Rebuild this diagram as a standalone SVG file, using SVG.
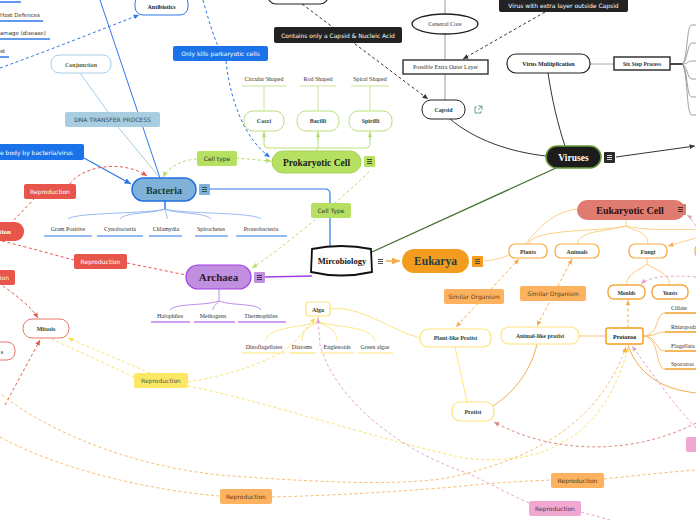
<svg xmlns="http://www.w3.org/2000/svg" width="696" height="520" viewBox="0 0 696 520">
<style>
.ser{font-family:"Liberation Serif","Times New Roman",serif}
.san{font-family:"DejaVu Sans","Liberation Sans",sans-serif}
.b{font-weight:bold}
.nt{font-family:"Liberation Serif",serif;font-weight:bold;font-size:6px;fill:#1f4a44;text-anchor:middle}
.lt{font-family:"Liberation Serif",serif;font-size:6px;fill:#333;text-anchor:middle}
.lab{font-family:"DejaVu Sans",sans-serif;font-size:6px;text-anchor:middle}
.wbox{fill:#fff}
.dash{stroke-dasharray:3 2.5;fill:none;stroke-width:1}
.ln{fill:none}
.ic{stroke-width:0.8}
</style>
<defs>
<marker id="aBl" viewBox="0 0 10 10" refX="9" refY="5" markerWidth="6" markerHeight="6" orient="auto"><path d="M0,1 L9,5 L0,9z" fill="#2f77e8"/></marker>
<marker id="aK" viewBox="0 0 10 10" refX="9" refY="5" markerWidth="6" markerHeight="6" orient="auto"><path d="M0,1 L9,5 L0,9z" fill="#333"/></marker>
<marker id="aR" viewBox="0 0 10 10" refX="9" refY="5" markerWidth="6" markerHeight="6" orient="auto"><path d="M0,1 L9,5 L0,9z" fill="#e8584c"/></marker>
<marker id="aY" viewBox="0 0 10 10" refX="9" refY="5" markerWidth="6" markerHeight="6" orient="auto"><path d="M0,1 L9,5 L0,9z" fill="#f8df55"/></marker>
<marker id="aO" viewBox="0 0 10 10" refX="9" refY="5" markerWidth="6" markerHeight="6" orient="auto"><path d="M0,1 L9,5 L0,9z" fill="#f7ab4c"/></marker>
<marker id="aOs" viewBox="0 0 10 10" refX="1" refY="5" markerWidth="6" markerHeight="6" orient="auto"><path d="M10,1 L1,5 L10,9z" fill="#f7ab4c"/></marker>
<marker id="aP" viewBox="0 0 10 10" refX="9" refY="5" markerWidth="6" markerHeight="6" orient="auto"><path d="M0,1 L9,5 L0,9z" fill="#e9a3cb"/></marker>
<marker id="aG" viewBox="0 0 10 10" refX="9" refY="5" markerWidth="6" markerHeight="6" orient="auto"><path d="M0,1 L9,5 L0,9z" fill="#b5de6c"/></marker>
<marker id="aBr" viewBox="0 0 10 10" refX="9" refY="5" markerWidth="6" markerHeight="6" orient="auto"><path d="M0,1 L9,5 L0,9z" fill="#dc8b82"/></marker>
<marker id="aLG" viewBox="0 0 10 10" refX="9" refY="5" markerWidth="6" markerHeight="6" orient="auto"><path d="M0,1 L9,5 L0,9z" fill="#b9e07a"/></marker>
<g id="menu"><line x1="3" y1="3.5" x2="8" y2="3.5"/><line x1="3" y1="5.5" x2="8" y2="5.5"/><line x1="3" y1="7.5" x2="8" y2="7.5"/></g>
</defs>
<rect width="696" height="520" fill="#fff"/>

<g id="connectors">
<path class="ln" d="M100,0 L160,178" stroke="#2f77e8" stroke-width="1"/>
<path class="ln" d="M84,158 L131,184" stroke="#2f77e8" stroke-width="1.2" marker-end="url(#aBl)"/>
<path class="dash" d="M0,68 C50,50 100,30 139,15" stroke="#2f77e8" marker-end="url(#aBl)"/>
<path class="dash" d="M203,0 C208,18 213,35 218,46" stroke="#2f77e8"/>
<path class="dash" d="M226,61 C230,100 245,140 270,157" stroke="#2f77e8" marker-end="url(#aBl)"/>
<path class="ln" d="M210,189 L325,189 Q330,189 330,194 L330,246" stroke="#2f77e8" stroke-width="1.2"/>
<path class="ln" d="M80,73 L108,112 M118,127 L160,178" stroke="#a8cde6" stroke-width="1"/>
<path class="dash" d="M197,159 C180,160 168,168 163,177" stroke="#b5de6c" marker-end="url(#aG)"/>
<path class="dash" d="M236,158 L271,161" stroke="#b5de6c" marker-end="url(#aG)"/>
<path class="dash" d="M369,172 C340,200 280,250 252,268" stroke="#b5de6c" marker-end="url(#aG)"/>
<path class="ln" d="M317,151 L317,148 M268,148 L366,148 M264,131 L264,144 Q264,148 268,148 M370,131 L370,144 Q370,148 366,148 M318,131 L318,148" stroke="#b9e07a" stroke-width="1"/>
<path class="ln" d="M264,140 L264,132" stroke="#b9e07a" marker-end="url(#aLG)"/>
<path class="ln" d="M318,140 L318,132" stroke="#b9e07a" marker-end="url(#aLG)"/>
<path class="ln" d="M370,140 L370,132" stroke="#b9e07a" marker-end="url(#aLG)"/>
<path class="ln" d="M264,86 L264,111 M318,86 L318,111 M370,86 L370,111" stroke="#c8e69a" stroke-width="1"/>
<path class="ln" d="M165,209 C150,214 75,212 68,219 M165,209 C150,214 125,212 120,219 M165,209 C166,213 167,215 167,219 M165,209 C175,214 205,212 211,219 M165,209 C180,214 255,212 261,219" stroke="#8cb2f0" stroke-width="0.9"/>
<path class="ln" d="M165,201 L165,209" stroke="#2f77e8" stroke-width="1.5"/>
<path class="ln" d="M219,289 L219,301 M219,301 C205,306 175,303 170,310 M219,301 C216,305 213,306 213,310 M219,301 C232,306 257,303 261,310" stroke="#b77de6" stroke-width="0.9"/>
<path class="ln" d="M265,277 L312,276" stroke="#a33ee6" stroke-width="1.5"/>
<path class="ln" d="M445,0 L445,14 M445,34 L445,60 M445,74 L445,100" stroke="#999" stroke-width="1"/>
<path class="dash" d="M302,4 L428,99" stroke="#333" marker-end="url(#aK)"/>
<path class="dash" d="M545,12 L463,59" stroke="#333" marker-end="url(#aK)"/>
<path class="ln" d="M450,119 C475,140 510,152 546,156" stroke="#333" stroke-width="1"/>
<path class="ln" d="M548,73 C552,100 558,125 565,146" stroke="#333" stroke-width="1"/>
<path class="ln" d="M590,64 L614,64" stroke="#aaa" stroke-width="1"/>
<path class="ln" d="M670,64 L682,64" stroke="#333" stroke-width="1.8"/>
<path class="ln" d="M682,64 C688,60 686,25 692,25 L696,25 M682,64 C688,62 687,43 692,43 L696,43 M682,64 C688,64 688,61 692,61 L696,61 M682,64 C688,66 687,79 692,79 L696,79 M682,64 C688,68 686,97 692,97 L696,97 M682,64 C688,70 686,115 692,115 L696,115" stroke="#888" stroke-width="0.8"/>
<path class="ln" d="M616,157 L695,146" stroke="#333" stroke-width="1" marker-end="url(#aK)"/>
<path class="ln" d="M556,168 L372,252" stroke="#3d6b2a" stroke-width="1.2"/>
<path class="ln" d="M386,261 L400,261" stroke="#f7ab4c" stroke-width="1.5" marker-end="url(#aO)"/>
<path class="ln" d="M484,261 C505,259 515,253 525,245 C540,225 555,212 577,209" stroke="#fcd08a" stroke-width="1"/>
<path class="ln" d="M626,220 L626,226 M626,226 C600,232 535,228 528,244 M626,226 C605,232 580,230 577,244 M626,226 C635,232 647,230 648,244 M626,226 C650,232 690,228 696,230" stroke="#fcd08a" stroke-width="1"/>
<path class="ln" d="M696,238 L668,246" stroke="#fcd08a" stroke-width="1" marker-end="url(#aO)"/>
<path class="ln" d="M647,258 L647,264 M647,264 C640,270 628,272 626,285 M647,264 C655,270 668,272 670,285" stroke="#fcc978" stroke-width="1"/>
<path class="dash" d="M628,328 L628,300" stroke="#f7ab4c" marker-end="url(#aO)"/>
<path class="ln" d="M643,336 C660,336 655,313 665,313 L696,313 M643,336 C658,336 655,332 665,332 L696,332 M643,336 C658,336 655,351 665,351 L696,351 M643,336 C660,336 655,369 665,369 L696,369" stroke="#f9c070" stroke-width="1"/>
<path class="ln" d="M628,345 C640,380 670,390 696,393" stroke="#f7ab4c" stroke-width="1"/>
<path class="ln" d="M579,336 L606,336" stroke="#fcd8a8" stroke-width="1.5"/>
<path class="ln" d="M455,347 L467,402" stroke="#fde47a" stroke-width="1"/>
<path class="ln" d="M537,344 C530,375 510,395 493,406" stroke="#f7ab4c" stroke-width="1"/>
<path class="ln" d="M420,338 C390,330 360,305 330,309" stroke="#fde47a" stroke-width="1"/>
<path class="dash" d="M519,259 L456,327" stroke="#f7ab4c" marker-start="url(#aOs)" marker-end="url(#aO)"/>
<path class="dash" d="M572,259 L537,326" stroke="#f7ab4c" marker-start="url(#aOs)" marker-end="url(#aO)"/>
<path class="ln" d="M318,316 L318,322 M318,322 C300,328 270,326 265,341 M318,322 C308,328 302,330 302,341 M318,322 C330,328 337,330 337,341 M318,322 C340,328 372,326 375,341" stroke="#fde47a" stroke-width="0.9"/>
<path class="dash" d="M70,184 C80,168 120,158 147,176" stroke="#e8584c" marker-end="url(#aR)"/>
<path class="dash" d="M35,198 L12,222" stroke="#e8584c"/>
<path class="dash" d="M2,241 C30,248 55,255 74,260" stroke="#e8584c"/>
<path class="dash" d="M127,263 L186,275" stroke="#e8584c"/>
<path class="dash" d="M3,286 C15,295 30,305 38,318" stroke="#e8584c" marker-end="url(#aR)"/>
<path class="dash" d="M5,405 L40,340" stroke="#e8584c" marker-end="url(#aR)"/>
<path class="dash" d="M150,373 L68,338" stroke="#fbe46a" marker-end="url(#aY)"/>
<path class="dash" d="M134,377 L52,339" stroke="#fbe46a"/>
<path class="dash" d="M188,382 C230,375 270,362 292,345 L315,318" stroke="#fbe46a" marker-end="url(#aY)"/>
<path class="dash" d="M188,386 C260,400 380,440 464,458 C560,470 610,420 628,347" stroke="#fbe46a" marker-end="url(#aY)"/>
<path class="dash" d="M2,395 C60,440 150,470 232,476 C330,483 420,487 464,474 C540,455 600,420 626,347" stroke="#f9bd72" marker-end="url(#aO)"/>
<path class="dash" d="M0,437 C60,470 150,490 219,496" stroke="#f9bd72"/>
<path class="dash" d="M272,497 C350,495 420,490 464,486 C500,482 530,481 551,480" stroke="#f9bd72"/>
<path class="dash" d="M604,479 C640,475 670,472 696,470" stroke="#f9bd72"/>
<path class="dash" d="M529,503 C500,490 480,478 464,472 C400,450 335,400 320,345 L318,318" stroke="#eba6cf" marker-end="url(#aP)"/>
<path class="dash" d="M581,512 L610,520" stroke="#eba6cf"/>
<path class="dash" d="M696,428 C670,400 650,370 632,346" stroke="#eba6cf" marker-end="url(#aP)"/>
<path class="dash" d="M696,277 C670,275 650,276 641,284" stroke="#eba6cf" marker-end="url(#aP)"/>
<path class="dash" d="M696,226 C692,220 690,217 687,215" stroke="#eba6cf" marker-end="url(#aP)"/>
<path class="dash" d="M696,423 C640,452 560,458 494,422" stroke="#dc8b82" marker-end="url(#aBr)"/>
</g>

<g id="top-left-list">
<line x1="0" y1="2" x2="21" y2="2" stroke="#2f77e8" stroke-width="1.5"/>
<text x="0" y="17" class="san" font-size="5.5" fill="#333">Host Defences</text>
<line x1="0" y1="21" x2="43" y2="21" stroke="#2f77e8" stroke-width="1.5"/>
<text x="0" y="35" class="san" font-size="5.5" fill="#333">amage (disease)</text>
<line x1="0" y1="39" x2="50" y2="39" stroke="#2f77e8" stroke-width="1.5"/>
<text x="0" y="53" class="san" font-size="5.5" fill="#333">st</text>
<line x1="0" y1="57" x2="9" y2="57" stroke="#2f77e8" stroke-width="1.5"/>
</g>

<g id="antibiotics"><rect x="135" y="-5" width="53" height="20" rx="8" class="wbox" stroke="#2f77e8" stroke-width="1"/><text x="161.5" y="9" class="nt" style="fill:#222">Antibiotics</text></g>
<g id="conjunction"><rect x="51" y="55" width="60" height="18" rx="8" class="wbox" stroke="#a8cde6" stroke-width="1"/><text x="81" y="66.5" class="nt" style="fill:#5a6b2a">Conjunction</text></g>
<g id="only-kills"><rect x="173" y="46" width="95" height="15" rx="2" fill="#1a73e8"/><text x="220.5" y="56" class="lab" fill="#fff">Only kills parkaryotic cells</text></g>
<g id="dna"><rect x="65" y="112" width="95" height="15" rx="2" fill="#a9cde0"/><text x="112.5" y="122" class="lab" fill="#3a4a55">DNA TRANSFER PROCESS</text></g>
<g id="body-label"><rect x="-5" y="144" width="89" height="16" rx="2" fill="#1a73e8"/><text x="0" y="154.5" class="san" font-size="6" fill="#fff">e body by bacteria/virus</text></g>
<g id="cell-type-1"><rect x="197" y="151" width="40" height="15" rx="2" fill="#b5e061"/><text x="217" y="161" class="lab" fill="#333">Cell type</text></g>

<g id="bacteria"><rect x="132" y="178" width="64" height="23" rx="11.5" fill="#7fb1d9" stroke="#1f6fe0" stroke-width="1.5"/><text x="164" y="193.5" class="ser b" font-size="10" text-anchor="middle" fill="#133f3a">Bacteria</text>
<rect x="199" y="184" width="11" height="11" rx="1" fill="#7fb1d9"/><use href="#menu" x="199" y="184" stroke="#133f3a" class="ic"/></g>
<g id="bacteria-types">
<text x="68" y="231" class="lt">Gram Positive</text><line x1="44" y1="236" x2="92" y2="236" stroke="#2f77e8" stroke-width="1.2"/>
<text x="120" y="231" class="lt">Cynobacteria</text><line x1="97" y1="236" x2="143" y2="236" stroke="#2f77e8" stroke-width="1.2"/>
<text x="166" y="231" class="lt">Chlamydia</text><line x1="149" y1="236" x2="182" y2="236" stroke="#2f77e8" stroke-width="1.2"/>
<text x="211" y="231" class="lt">Spirochetes</text><line x1="195" y1="236" x2="228" y2="236" stroke="#2f77e8" stroke-width="1.2"/>
<text x="261" y="231" class="lt">Proteobacteria</text><line x1="236" y1="236" x2="287" y2="236" stroke="#2f77e8" stroke-width="1.2"/>
</g>

<g id="prokaryotic-cell"><rect x="272" y="151" width="89" height="22" rx="11" fill="#b5e061" stroke="#a5d455" stroke-width="1"/><text x="316.5" y="165.5" class="ser b" font-size="9.5" text-anchor="middle" fill="#1a1a1a">Prokaryotic Cell</text>
<rect x="364" y="156" width="11" height="11" rx="1" fill="#b5e061"/><use href="#menu" x="364" y="156" stroke="#222" class="ic"/></g>
<g id="cocci"><rect x="244" y="111" width="40" height="20" rx="9" class="wbox" stroke="#b9e07a" stroke-width="1"/><text x="264" y="123" class="nt">Cocci</text></g>
<g id="bacilli"><rect x="297" y="111" width="42" height="20" rx="9" class="wbox" stroke="#b9e07a" stroke-width="1"/><text x="318" y="123" class="nt">Bacilli</text></g>
<g id="spirilli"><rect x="349" y="111" width="43" height="20" rx="9" class="wbox" stroke="#b9e07a" stroke-width="1"/><text x="370.5" y="123" class="nt">Spirilli</text></g>
<g id="shapes">
<text x="264" y="81" class="lt" font-size="5">Circular Shaped</text><line x1="242" y1="86" x2="287" y2="86" stroke="#c8e69a" stroke-width="1.2"/>
<text x="318" y="81" class="lt" font-size="5">Rod Shaped</text><line x1="300" y1="86" x2="336" y2="86" stroke="#c8e69a" stroke-width="1.2"/>
<text x="370" y="81" class="lt" font-size="5">Spiral Shaped</text><line x1="351" y1="86" x2="389" y2="86" stroke="#c8e69a" stroke-width="1.2"/>
</g>
<g id="cell-type-2"><rect x="311" y="203" width="40" height="15" rx="2" fill="#b5e061"/><text x="331" y="213" class="lab" fill="#333">Cell Type</text></g>

<g id="top-node"><rect x="268" y="-15" width="60" height="19" rx="8" class="wbox" stroke="#222" stroke-width="1.2"/></g>
<g id="contains-label"><rect x="274" y="27" width="128" height="16" rx="2" fill="#222"/><text x="338" y="37.5" class="lab" fill="#fff">Contains only a Capsid &amp; Nucleic Acid</text></g>
<g id="extra-label"><rect x="499" y="-3" width="129" height="15" rx="2" fill="#222"/><text x="563.5" y="8" class="lab" fill="#fff">Virus with extra layer outside Capsid</text></g>
<g id="central-core"><ellipse cx="445" cy="24" rx="33" ry="10" class="wbox" stroke="#222" stroke-width="1.3"/><text x="445" y="26" class="lt" fill="#222">Cenetral Core</text></g>
<g id="outer-layer"><rect x="403" y="60" width="85" height="14" class="wbox" stroke="#222" stroke-width="1.3"/><text x="445.5" y="69" class="lt" fill="#222">Possible Extra Outer Layer</text></g>
<g id="capsid"><rect x="422" y="100" width="43" height="19" rx="9" class="wbox" stroke="#222" stroke-width="1"/><text x="443.5" y="112" class="nt">Capsid</text>
<g stroke="#2f7a6a" stroke-width="0.7" fill="none"><path d="M477,107 L475,107 L475,113 L481,113 L481,111"/><path d="M478,106 L482,106 L482,110 M482,106 L478,110"/></g></g>
<g id="virus-multiplication"><rect x="507" y="54" width="83" height="19" rx="9" class="wbox" stroke="#222" stroke-width="1.2"/><text x="548.5" y="66" class="nt" style="fill:#222">Virus Multiplication</text></g>
<g id="six-step"><rect x="614" y="57" width="56" height="13" class="wbox" stroke="#333" stroke-width="1.5"/><text x="642" y="66" class="nt" style="fill:#333;font-size:5.5px">Six Step Process</text></g>
<g id="viruses"><rect x="546" y="146" width="55" height="22" rx="11" fill="#1c1c1c" stroke="#6a9a3a" stroke-width="1.5"/><text x="573.5" y="160.5" class="ser b" font-size="9.5" text-anchor="middle" fill="#fff">Viruses</text>
<rect x="604" y="152" width="11" height="11" rx="1" fill="#2a2a2a"/><use href="#menu" x="604" y="152" stroke="#fff" class="ic"/></g>

<g id="mircobiology"><path d="M312,249 Q341,243 371,249 L372,272 Q341,279 311,272 Z" fill="#fff" stroke="#111" stroke-width="1.8"/><text x="342" y="264" class="ser b" font-size="8.5" text-anchor="middle" fill="#111">Mircobiology</text>
<use href="#menu" x="375" y="256" stroke="#222" class="ic"/></g>
<g id="eukarya"><rect x="402" y="249" width="67" height="24" rx="12" fill="#f39c1f"/><text x="435.5" y="265" class="ser b" font-size="11.5" text-anchor="middle" fill="#1d4040">Eukarya</text>
<rect x="472" y="256" width="11" height="11" rx="1" fill="#f39c1f"/><use href="#menu" x="472" y="256" stroke="#1d4040" class="ic"/></g>
<g id="archaea"><rect x="186" y="265" width="65" height="24" rx="12" fill="#c18fe0" stroke="#a33ee6" stroke-width="1.2"/><text x="218.5" y="281" class="ser b" font-size="11" text-anchor="middle" fill="#2a1a2a">Archaea</text>
<rect x="254" y="272" width="11" height="11" rx="1" fill="#c18fe0"/><use href="#menu" x="254" y="272" stroke="#2a1a2a" class="ic"/></g>
<g id="archaea-types">
<text x="170" y="318" class="lt">Halophiles</text><line x1="151" y1="322" x2="190" y2="322" stroke="#a33ee6" stroke-width="1.2"/>
<text x="213" y="318" class="lt">Methogens</text><line x1="194" y1="322" x2="235" y2="322" stroke="#a33ee6" stroke-width="1.2"/>
<text x="261" y="318" class="lt">Thermophiles</text><line x1="238" y1="322" x2="286" y2="322" stroke="#a33ee6" stroke-width="1.2"/>
</g>

<g id="eukaryotic-cell"><rect x="577" y="200" width="108" height="20" rx="10" fill="#e07b70"/><text x="630" y="213.5" class="ser b" font-size="10" text-anchor="middle" fill="#2a1212">Eukaryotic Cell</text>
<rect x="675" y="204" width="11" height="11" rx="1" fill="#e07b70"/><use href="#menu" x="675" y="204" stroke="#2a1212" class="ic"/></g>
<g id="plants"><rect x="509" y="244" width="38" height="14" rx="6" class="wbox" stroke="#f7a940" stroke-width="1.2"/><text x="528" y="253.5" class="nt">Plants</text></g>
<g id="animals"><rect x="555" y="244" width="44" height="14" rx="6" class="wbox" stroke="#f7a940" stroke-width="1.2"/><text x="577" y="253.5" class="nt">Animals</text></g>
<g id="fungi"><rect x="629" y="244" width="38" height="14" rx="6" class="wbox" stroke="#f7a940" stroke-width="1.2"/><text x="648" y="253.5" class="nt">Fungi</text></g>
<g id="right-node"><rect x="695" y="244" width="20" height="14" rx="6" class="wbox" stroke="#f7a940" stroke-width="1.2"/></g>
<g id="moulds"><rect x="608" y="285" width="37" height="14" rx="6" class="wbox" stroke="#f7a940" stroke-width="1.5"/><text x="626.5" y="294.5" class="nt" style="fill:#333;font-size:5.5px">Moulds</text></g>
<g id="yeasts"><rect x="652" y="285" width="36" height="14" rx="6" class="wbox" stroke="#f7a940" stroke-width="1.5"/><text x="670" y="294.5" class="nt" style="fill:#333;font-size:5.5px">Yeasts</text></g>
<g id="protozoa"><rect x="606" y="328" width="37" height="16" rx="2" class="wbox" stroke="#f39c1f" stroke-width="1.5"/><text x="624.5" y="338.5" class="nt" style="fill:#111">Protozoa</text></g>
<g id="protozoa-types">
<text x="671" y="310" class="lt" style="text-anchor:start">Ciliate</text>
<text x="671" y="329" class="lt" style="text-anchor:start">Rhizopoda</text>
<text x="671" y="348" class="lt" style="text-anchor:start">Flagellata</text>
<text x="671" y="366" class="lt" style="text-anchor:start">Sporozoa</text>
<line x1="665" y1="313" x2="696" y2="313" stroke="#f39c1f" stroke-width="1.2"/>
<line x1="665" y1="332" x2="696" y2="332" stroke="#f39c1f" stroke-width="1.2"/>
<line x1="665" y1="351" x2="696" y2="351" stroke="#f39c1f" stroke-width="1.2"/>
<line x1="665" y1="369" x2="696" y2="369" stroke="#f39c1f" stroke-width="1.2"/>
</g>
<g id="similar-1"><rect x="444" y="289" width="60" height="15" rx="2" fill="#fdb25f"/><text x="474" y="299" class="lab" fill="#5a3a1a">Similar Organism</text></g>
<g id="similar-2"><rect x="520" y="286" width="66" height="15" rx="2" fill="#fdb25f"/><text x="553" y="296" class="lab" fill="#5a3a1a">Similar Organism</text></g>
<g id="animal-like"><rect x="501" y="327" width="78" height="17" rx="8" class="wbox" stroke="#fde47a" stroke-width="1.2"/><text x="540" y="338" class="nt">Animal-like protist</text></g>
<g id="plant-like"><rect x="420" y="329" width="71" height="18" rx="8" class="wbox" stroke="#fde47a" stroke-width="1.2"/><text x="455.5" y="340" class="nt">Plant-like Protist</text></g>
<g id="protist"><rect x="452" y="402" width="42" height="19" rx="8" class="wbox" stroke="#fde47a" stroke-width="1.2"/><text x="473" y="414" class="nt">Protist</text></g>
<g id="alga"><rect x="306" y="302" width="24" height="14" rx="3" class="wbox" stroke="#fde47a" stroke-width="1.2"/><text x="318" y="311.5" class="nt">Alga</text></g>
<g id="alga-types">
<text x="264" y="349" class="lt" font-size="5">Dinoflagellates</text><line x1="242" y1="353" x2="285" y2="353" stroke="#fde47a" stroke-width="1.2"/>
<text x="302" y="349" class="lt" font-size="5">Diatoms</text><line x1="289" y1="353" x2="316" y2="353" stroke="#fde47a" stroke-width="1.2"/>
<text x="337" y="349" class="lt" font-size="5">Englenoids</text><line x1="320" y1="353" x2="354" y2="353" stroke="#fde47a" stroke-width="1.2"/>
<text x="375" y="349" class="lt" font-size="5">Green algae</text><line x1="358" y1="353" x2="393" y2="353" stroke="#fde47a" stroke-width="1.2"/>
</g>

<g id="repro-red-1"><rect x="24" y="184" width="52" height="15" rx="2" fill="#e8554a"/><text x="50" y="194" class="lab" fill="#fff">Reproduction</text></g>
<g id="repro-red-2"><rect x="74" y="254" width="53" height="15" rx="2" fill="#e8554a"/><text x="100.5" y="264" class="lab" fill="#fff">Reproduction</text></g>
<g id="red-node-1"><rect x="-30" y="222" width="54" height="19" rx="9" fill="#e8554a"/><text x="11" y="234" class="ser b" font-size="7" text-anchor="end" fill="#fff">tion</text></g>
<g id="red-node-2"><rect x="-10" y="270" width="25" height="15" rx="2" fill="#e8554a"/><text x="9" y="280" class="lab" style="text-anchor:end" fill="#fff">ion</text></g>
<g id="mitosis"><rect x="23" y="319" width="46" height="19" rx="9" class="wbox" stroke="#e8776a" stroke-width="1"/><text x="46" y="331" class="nt">Mitosis</text></g>
<g id="red-node-3"><rect x="-20" y="342" width="35" height="18" rx="8" class="wbox" stroke="#e8776a" stroke-width="1"/><text x="3" y="353.5" class="nt" style="text-anchor:end">s</text></g>
<g id="repro-yellow"><rect x="134" y="373" width="54" height="15" rx="2" fill="#fde866"/><text x="161" y="383" class="lab" fill="#555">Reproduction</text></g>
<g id="repro-orange-1"><rect x="220" y="489" width="52" height="15" rx="2" fill="#fdb25f"/><text x="246" y="499" class="lab" fill="#5a3a1a">Reproduction</text></g>
<g id="repro-orange-2"><rect x="551" y="473" width="53" height="15" rx="2" fill="#fdb25f"/><text x="577.5" y="483" class="lab" fill="#5a3a1a">Reproduction</text></g>
<g id="repro-pink"><rect x="529" y="501" width="52" height="15" rx="2" fill="#f0a8d0"/><text x="555" y="511" class="lab" fill="#5a2a4a">Reproduction</text></g>
<g id="pink-node"><rect x="686" y="437" width="20" height="15" rx="2" fill="#f0a8d0"/></g>
</svg>
